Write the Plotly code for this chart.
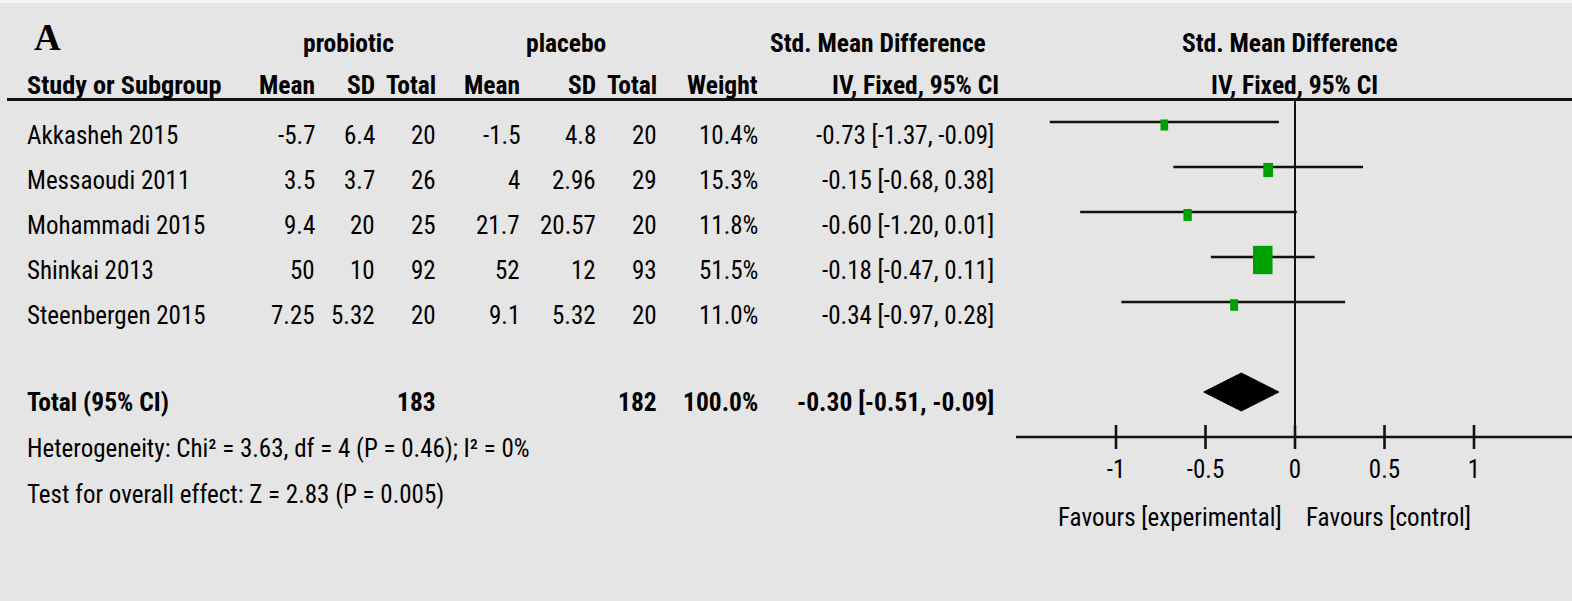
import plotly.graph_objects as go

# ---- data -------------------------------------------------------------
studies = ["Akkasheh 2015", "Messaoudi 2011", "Mohammadi 2015", "Shinkai 2013", "Steenbergen 2015"]
pro_mean = [-5.7, 3.5, 9.4, 50, 7.25]
pro_sd = [6.4, 3.7, 20, 10, 5.32]
pro_n = [20, 26, 25, 92, 20]
pla_mean = [-1.5, 4, 21.7, 52, 9.1]
pla_sd = [4.8, 2.96, 20.57, 12, 5.32]
pla_n = [20, 29, 20, 93, 20]
weight = [10.4, 15.3, 11.8, 51.5, 11.0]
smd = [-0.73, -0.15, -0.60, -0.18, -0.34]
ci_lo = [-1.37, -0.68, -1.20, -0.47, -0.97]
ci_hi = [-0.09, 0.38, 0.01, 0.11, 0.28]
total_smd, total_lo, total_hi = -0.30, -0.51, -0.09
total_pro_n, total_pla_n, total_weight = 183, 182, 100.0
tick_vals = [-1, -0.5, 0, 0.5, 1]
tick_text = ["-1", "-0.5", "0", "0.5", "1"]
heterogeneity = "Heterogeneity: Chi² = 3.63, df = 4 (P = 0.46); I² = 0%"
overall = "Test for overall effect: Z = 2.83 (P = 0.005)"

# ---- layout constants -------------------------------------------------
W, H = 1572, 601
BG = "#e6e5e6"
GREEN = "#00a000"
INK = "#111111"
FONT = "Roboto Condensed, Liberation Sans Narrow, Arial Narrow, sans-serif"
FS = 25          # regular table text
FS_B = 25.5      # bold headings

ZERO_PX, UNIT_PX = 1295, 179      # horizontal position of 0 and pixels per SMD unit
ROW0_PX, ROW_PX = 122, 45         # first study row and row pitch
TEXT_DROP = 13                    # table text sits a little below the plot row
AXIS_LEFT_PX = 1016


def row_of(py):
    return (py - ROW0_PX) / ROW_PX


def px(x):
    return x / W


rows = list(range(len(studies)))
total_row = 6
axis_row = 7

fig = go.Figure()

# confidence-interval whiskers
xs, ys = [], []
for r, lo, hi in zip(rows, ci_lo, ci_hi):
    xs += [lo, hi, None]
    ys += [r, r, None]
fig.add_trace(go.Scatter(x=xs, y=ys, mode="lines", line=dict(color=INK, width=2.6),
                         hoverinfo="skip"))

# pooled estimate diamond
half_h = 19 / ROW_PX
fig.add_trace(go.Scatter(
    x=[total_lo, total_smd, total_hi, total_smd, total_lo],
    y=[total_row, total_row - half_h, total_row, total_row + half_h, total_row],
    mode="lines", fill="toself", fillcolor="black", line=dict(color="black", width=1),
    hoverinfo="skip"))

# axis ticks crossing the axis line
tx, ty = [], []
tick_half = 12 / ROW_PX
for t in tick_vals:
    tx += [t, t, None]
    ty += [axis_row - tick_half, axis_row + tick_half, None]
fig.add_trace(go.Scatter(x=tx, y=ty, mode="lines", line=dict(color=INK, width=2.6),
                         hoverinfo="skip"))

# tick labels
fig.add_trace(go.Scatter(x=tick_vals, y=[row_of(472)] * len(tick_vals), mode="text",
                         text=tick_text, textposition="middle center",
                         textfont=dict(family=FONT, size=FS, color="black"),
                         hoverinfo="skip"))

shapes = []
# study weight boxes
for r, e, w in zip(rows, smd, weight):
    bw = 3.0 * w ** 0.5 - 2
    bh = 1.45 * bw
    shapes.append(dict(type="rect", xref="x", yref="y", xsizemode="pixel", ysizemode="pixel",
                       xanchor=e, yanchor=r, x0=-bw / 2, x1=bw / 2,
                       y0=-3 - bh / 2, y1=-3 + bh / 2,
                       fillcolor=GREEN, line=dict(width=0), layer="above"))
# line of no effect
shapes.append(dict(type="line", xref="x", yref="y", x0=0, x1=0, y0=row_of(99), y1=axis_row,
                   line=dict(color=INK, width=2)))
# horizontal axis
shapes.append(dict(type="line", xref="x", yref="y",
                   x0=(AXIS_LEFT_PX - ZERO_PX) / UNIT_PX, x1=(W - ZERO_PX) / UNIT_PX,
                   y0=axis_row, y1=axis_row, line=dict(color=INK, width=2.6)))
# header rule
shapes.append(dict(type="line", xref="paper", yref="y", x0=px(7), x1=1,
                   y0=row_of(99.5), y1=row_of(99.5), line=dict(color=INK, width=2.8)))
# thin light strip along the top edge
shapes.append(dict(type="rect", xref="paper", yref="paper", x0=0, x1=1, y0=1 - 3 / H, y1=1,
                   fillcolor="#f4f4f4", line=dict(width=0), layer="below"))

annotations = []


def label(text, x_px, y_px, anchor="left", bold=False, family=FONT, size=None):
    if size is None:
        size = FS_B if bold else FS
    t = f"<b>{text}</b>" if bold else text
    annotations.append(dict(text=t, xref="paper", yref="y", x=px(x_px), y=row_of(y_px),
                            xanchor=anchor, yanchor="middle", showarrow=False,
                            font=dict(family=family, size=size, color="black")))


# title letter and group headings
label("A", 32, 37, "left", True, "Liberation Serif, Times New Roman, serif", 37)
label("probiotic", 348, 43, "center", True)
label("placebo", 566, 43, "center", True)
label("Std. Mean Difference", 878, 43, "center", True)
label("Std. Mean Difference", 1290, 43, "center", True)

# column headings
label("Study or Subgroup", 25, 85, "left", True, size=26.3)
col_right = [317, 377, 438, 522, 598, 659, 760]
for name, xr in zip(["Mean", "SD", "Total", "Mean", "SD", "Total", "Weight"], col_right):
    label(name, xr, 85, "right", True)
label("IV, Fixed, 95% CI", 915, 85, "center", True)
label("IV, Fixed, 95% CI", 1294, 85, "center", True)

# study rows
for r, name in enumerate(studies):
    y = ROW0_PX + r * ROW_PX + TEXT_DROP
    label(name, 25, y, "left")
    cells = [str(pro_mean[r]), str(pro_sd[r]), str(pro_n[r]),
             str(pla_mean[r]), str(pla_sd[r]), str(pla_n[r]), f"{weight[r]:.1f}%"]
    for c, xr in zip(cells, col_right):
        label(c, xr, y, "right")
    label(f"{smd[r]:.2f} [{ci_lo[r]:.2f}, {ci_hi[r]:.2f}]", 996, y, "right")

# pooled row
yt = ROW0_PX + total_row * ROW_PX + 10
label("Total (95% CI)", 25, yt, "left", True)
label(str(total_pro_n), col_right[2], yt, "right", True)
label(str(total_pla_n), col_right[5], yt, "right", True)
label(f"{total_weight:.1f}%", col_right[6], yt, "right", True)
label(f"{total_smd:.2f} [{total_lo:.2f}, {total_hi:.2f}]", 996, yt, "right", True)

# summary statistics
label(heterogeneity, 25, 448, "left")
label(overall, 25, 494, "left")

# direction labels under the axis
for text, anchor, shift in [("Favours [experimental]", "right", -11), ("Favours [control]", "left", 9)]:
    annotations.append(dict(text=text, xref="x", yref="y", x=0, y=row_of(517),
                            xanchor=anchor, yanchor="middle", xshift=shift, showarrow=False,
                            font=dict(family=FONT, size=FS, color="black")))

fig.update_layout(
    width=W, height=H, margin=dict(l=0, r=0, t=0, b=0),
    paper_bgcolor=BG, plot_bgcolor=BG, showlegend=False,
    xaxis=dict(visible=False, range=[(0 - ZERO_PX) / UNIT_PX, (W - ZERO_PX) / UNIT_PX],
               domain=[0, 1], fixedrange=True),
    yaxis=dict(visible=False, range=[row_of(H), row_of(0)], domain=[0, 1], fixedrange=True),
    shapes=shapes, annotations=annotations,
)

fig.write_html("out.html")
